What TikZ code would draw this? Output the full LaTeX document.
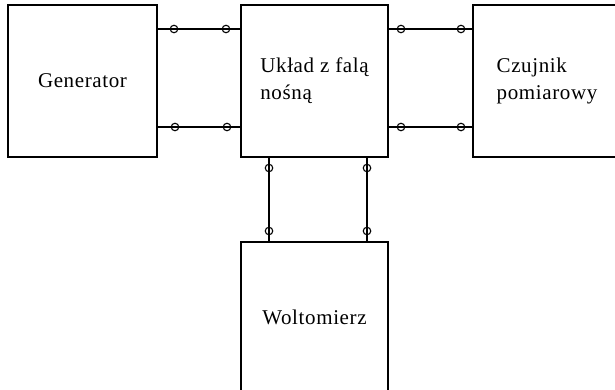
\documentclass[tikz,border=0pt]{standalone}
\usepackage{fontspec}
\setmainfont[LetterSpace=3]{Liberation Serif}
\begin{document}
\begin{tikzpicture}[x=1pt,y=1pt,
  blk/.style={draw, line width=1.4pt, inner sep=0pt, outer sep=0pt, align=left,
    font=\fontsize{21}{27}\selectfont},
  wire/.style={line width=1.4pt},
  term/.style={circle, draw, line width=1.1pt, minimum size=7.5pt, inner sep=0pt}]
\useasboundingbox (0,0) rectangle (615,-389);
\node[blk, minimum width=149pt, minimum height=152pt] (gen) at (82.5,-81) {Generator};
\node[blk, minimum width=147pt, minimum height=152pt] (mid) at (314.5,-81) {Układ z falą\\nośną};
\node[blk, minimum width=148pt, minimum height=152pt] (sen) at (547,-81) {Czujnik\\pomiarowy};
\node[blk, minimum width=147pt, minimum height=150pt] (volt) at (314.5,-317) {Woltomierz};
\coordinate (ya) at (0,-29);
\coordinate (yb) at (0,-127);
\coordinate (xa) at (269,0);
\coordinate (xb) at (367,0);
% terminals
\node[term] (t1) at (174,-29) {};
\node[term] (t2) at (226,-29) {};
\node[term] (t3) at (175,-127) {};
\node[term] (t4) at (227,-127) {};
\node[term] (t5) at (401,-29) {};
\node[term] (t6) at (461,-29) {};
\node[term] (t7) at (401,-127) {};
\node[term] (t8) at (461,-127) {};
\node[term] (t9) at (269,-168) {};
\node[term] (t10) at (269,-231) {};
\node[term] (t11) at (367,-168) {};
\node[term] (t12) at (367,-231) {};
% wires
\draw[wire] (gen.east |- ya) -- (mid.west |- ya);
\draw[wire] (gen.east |- yb) -- (mid.west |- yb);
\draw[wire] (mid.east |- ya) -- (sen.west |- ya);
\draw[wire] (mid.east |- yb) -- (sen.west |- yb);
\draw[wire] (mid.south -| xa) -- (volt.north -| xa);
\draw[wire] (mid.south -| xb) -- (volt.north -| xb);
\end{tikzpicture}
\end{document}
